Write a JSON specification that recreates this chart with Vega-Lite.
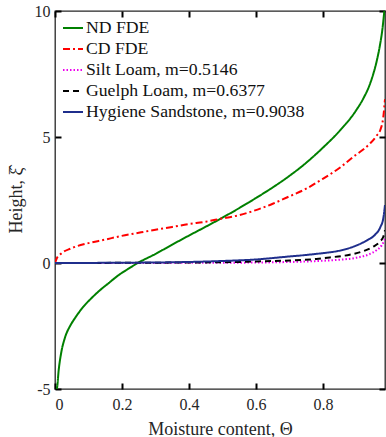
{
  "$schema": "https://vega.github.io/schema/vega-lite/v6.json",
  "width": 330,
  "height": 378,
  "autosize": {"type": "none"},
  "padding": {"left": 55, "top": 11, "right": 1, "bottom": 48},
  "background": "white",
  "config": {
    "view": {"stroke": "#262626", "strokeWidth": 1.3},
    "font": "Liberation Serif",
    "axis": {
      "grid": false,
      "domain": false,
      "ticks": true,
      "zindex": 1,
      "offset": -6,
      "tickColor": "#000000",
      "tickOpacity": 1,
      "tickWidth": 2,
      "tickSize": 6,
      "labelFont": "Liberation Serif",
      "labelFontSize": 16,
      "labelColor": "#262626",
      "titleFont": "Liberation Serif",
      "titleFontSize": 18,
      "titleFontWeight": "normal",
      "titleColor": "#262626"
    },
    "axisX": {"tickSize": 6, "ticks": true, "tickColor": "#000000"},
    "axisY": {"tickSize": 6, "ticks": true, "tickColor": "#000000"},
    "legend": {
      "labelFont": "Liberation Serif"
    }
  },
  "data": {
    "values": [
      {"s": "ND FDE", "t": 0.005, "h": -5.0},
      {"s": "ND FDE", "t": 0.006, "h": -4.96},
      {"s": "ND FDE", "t": 0.011, "h": -4.25},
      {"s": "ND FDE", "t": 0.018, "h": -3.6},
      {"s": "ND FDE", "t": 0.03, "h": -2.95},
      {"s": "ND FDE", "t": 0.045, "h": -2.5},
      {"s": "ND FDE", "t": 0.06, "h": -2.18},
      {"s": "ND FDE", "t": 0.085, "h": -1.73},
      {"s": "ND FDE", "t": 0.11, "h": -1.38},
      {"s": "ND FDE", "t": 0.135, "h": -1.07},
      {"s": "ND FDE", "t": 0.16, "h": -0.8},
      {"s": "ND FDE", "t": 0.19, "h": -0.48},
      {"s": "ND FDE", "t": 0.22, "h": -0.22},
      {"s": "ND FDE", "t": 0.247, "h": 0.0},
      {"s": "ND FDE", "t": 0.3, "h": 0.36},
      {"s": "ND FDE", "t": 0.35, "h": 0.73},
      {"s": "ND FDE", "t": 0.4, "h": 1.09},
      {"s": "ND FDE", "t": 0.45, "h": 1.44},
      {"s": "ND FDE", "t": 0.5, "h": 1.8},
      {"s": "ND FDE", "t": 0.55, "h": 2.18},
      {"s": "ND FDE", "t": 0.6, "h": 2.58},
      {"s": "ND FDE", "t": 0.65, "h": 3.0},
      {"s": "ND FDE", "t": 0.7, "h": 3.46},
      {"s": "ND FDE", "t": 0.75, "h": 3.98},
      {"s": "ND FDE", "t": 0.8, "h": 4.58},
      {"s": "ND FDE", "t": 0.85, "h": 5.25},
      {"s": "ND FDE", "t": 0.9, "h": 6.08},
      {"s": "ND FDE", "t": 0.92, "h": 6.52},
      {"s": "ND FDE", "t": 0.94, "h": 7.1},
      {"s": "ND FDE", "t": 0.95, "h": 7.5},
      {"s": "ND FDE", "t": 0.96, "h": 8.0},
      {"s": "ND FDE", "t": 0.97, "h": 8.65},
      {"s": "ND FDE", "t": 0.977, "h": 9.25},
      {"s": "ND FDE", "t": 0.983, "h": 10.0},
      {"s": "CD FDE", "t": 0.0, "h": 0.0},
      {"s": "CD FDE", "t": 0.005, "h": 0.18},
      {"s": "CD FDE", "t": 0.018, "h": 0.37},
      {"s": "CD FDE", "t": 0.048, "h": 0.58},
      {"s": "CD FDE", "t": 0.097, "h": 0.78},
      {"s": "CD FDE", "t": 0.15, "h": 0.93},
      {"s": "CD FDE", "t": 0.197, "h": 1.07},
      {"s": "CD FDE", "t": 0.25, "h": 1.2},
      {"s": "CD FDE", "t": 0.296, "h": 1.31},
      {"s": "CD FDE", "t": 0.35, "h": 1.43},
      {"s": "CD FDE", "t": 0.396, "h": 1.54},
      {"s": "CD FDE", "t": 0.45, "h": 1.64},
      {"s": "CD FDE", "t": 0.4925, "h": 1.75},
      {"s": "CD FDE", "t": 0.55, "h": 1.9},
      {"s": "CD FDE", "t": 0.593, "h": 2.07},
      {"s": "CD FDE", "t": 0.65, "h": 2.35},
      {"s": "CD FDE", "t": 0.692, "h": 2.6},
      {"s": "CD FDE", "t": 0.75, "h": 2.95},
      {"s": "CD FDE", "t": 0.792, "h": 3.28},
      {"s": "CD FDE", "t": 0.85, "h": 3.78},
      {"s": "CD FDE", "t": 0.891, "h": 4.22},
      {"s": "CD FDE", "t": 0.92, "h": 4.5},
      {"s": "CD FDE", "t": 0.941, "h": 4.75},
      {"s": "CD FDE", "t": 0.96, "h": 5.05},
      {"s": "CD FDE", "t": 0.971, "h": 5.28},
      {"s": "CD FDE", "t": 0.98, "h": 5.8},
      {"s": "CD FDE", "t": 0.985, "h": 6.5},
      {"s": "Silt Loam, m=0.5146", "t": 0.0, "h": 0.0},
      {"s": "Silt Loam, m=0.5146", "t": 0.5, "h": 0.01},
      {"s": "Silt Loam, m=0.5146", "t": 0.7, "h": 0.04},
      {"s": "Silt Loam, m=0.5146", "t": 0.8, "h": 0.09},
      {"s": "Silt Loam, m=0.5146", "t": 0.85, "h": 0.13},
      {"s": "Silt Loam, m=0.5146", "t": 0.9, "h": 0.21},
      {"s": "Silt Loam, m=0.5146", "t": 0.94, "h": 0.36},
      {"s": "Silt Loam, m=0.5146", "t": 0.961, "h": 0.52},
      {"s": "Silt Loam, m=0.5146", "t": 0.975, "h": 0.7},
      {"s": "Silt Loam, m=0.5146", "t": 0.985, "h": 0.95},
      {"s": "Guelph Loam, m=0.6377", "t": 0.0, "h": 0.0},
      {"s": "Guelph Loam, m=0.6377", "t": 0.5, "h": 0.03},
      {"s": "Guelph Loam, m=0.6377", "t": 0.6, "h": 0.06},
      {"s": "Guelph Loam, m=0.6377", "t": 0.7, "h": 0.1},
      {"s": "Guelph Loam, m=0.6377", "t": 0.78, "h": 0.16},
      {"s": "Guelph Loam, m=0.6377", "t": 0.82, "h": 0.22},
      {"s": "Guelph Loam, m=0.6377", "t": 0.88, "h": 0.33},
      {"s": "Guelph Loam, m=0.6377", "t": 0.92, "h": 0.47},
      {"s": "Guelph Loam, m=0.6377", "t": 0.95, "h": 0.65},
      {"s": "Guelph Loam, m=0.6377", "t": 0.97, "h": 0.85},
      {"s": "Guelph Loam, m=0.6377", "t": 0.98, "h": 1.04},
      {"s": "Guelph Loam, m=0.6377", "t": 0.985, "h": 1.3},
      {"s": "Hygiene Sandstone, m=0.9038", "t": 0.0, "h": 0.0},
      {"s": "Hygiene Sandstone, m=0.9038", "t": 0.3, "h": 0.02},
      {"s": "Hygiene Sandstone, m=0.9038", "t": 0.5, "h": 0.08},
      {"s": "Hygiene Sandstone, m=0.9038", "t": 0.6, "h": 0.14},
      {"s": "Hygiene Sandstone, m=0.9038", "t": 0.692, "h": 0.25},
      {"s": "Hygiene Sandstone, m=0.9038", "t": 0.75, "h": 0.32},
      {"s": "Hygiene Sandstone, m=0.9038", "t": 0.792, "h": 0.38},
      {"s": "Hygiene Sandstone, m=0.9038", "t": 0.842, "h": 0.47},
      {"s": "Hygiene Sandstone, m=0.9038", "t": 0.891, "h": 0.65},
      {"s": "Hygiene Sandstone, m=0.9038", "t": 0.931, "h": 0.9},
      {"s": "Hygiene Sandstone, m=0.9038", "t": 0.955, "h": 1.12},
      {"s": "Hygiene Sandstone, m=0.9038", "t": 0.971, "h": 1.42},
      {"s": "Hygiene Sandstone, m=0.9038", "t": 0.98, "h": 1.78},
      {"s": "Hygiene Sandstone, m=0.9038", "t": 0.985, "h": 2.3}
    ]
  },
  "layer": [
    {
      "mark": {"type": "line", "strokeWidth": 2, "clip": true, "interpolate": "monotone"},
      "encoding": {
        "x": {
          "field": "t", "type": "quantitative",
          "scale": {"domain": [0, 0.985], "nice": false, "zero": false},
          "axis": {"values": [0, 0.2, 0.4, 0.6, 0.8], "format": "~g", "ticks": true, "tickSize": 6, "labelPadding": 7, "title": "Moisture content, Θ", "titlePadding": 8}
        },
        "y": {
          "field": "h", "type": "quantitative",
          "scale": {"domain": [-5, 10], "nice": false, "zero": false},
          "axis": {"values": [-5, 0, 5, 10], "ticks": true, "tickSize": 6, "labelPadding": 5, "title": "Height, ξ̂", "titlePadding": 9, "labelExpr": "datum.value < 0 ? '-' + abs(datum.value) : datum.label"}
        },
        "color": {
          "field": "s", "type": "nominal",
          "scale": {
            "domain": ["ND FDE", "CD FDE", "Silt Loam, m=0.5146", "Guelph Loam, m=0.6377", "Hygiene Sandstone, m=0.9038"],
            "range": ["#008000", "#ff0000", "#ee00ee", "#000000", "#1f2e8c"]
          },
          "legend": {
            "orient": "none", "legendX": 7, "legendY": 6, "title": null,
            "symbolType": "stroke", "symbolSize": 400, "symbolStrokeWidth": 2,
            "labelFont": "Liberation Serif", "labelFontSize": 17.7, "labelColor": "#111111",
            "labelOffset": 2, "rowPadding": 1, "labelLimit": 400
          }
        },
        "strokeDash": {
          "field": "s", "type": "nominal",
          "scale": {
            "domain": ["ND FDE", "CD FDE", "Silt Loam, m=0.5146", "Guelph Loam, m=0.6377", "Hygiene Sandstone, m=0.9038"],
            "range": [[1, 0], [7, 3, 2, 3], [1.5, 2], [6, 4], [1, 0]]
          },
          "legend": null
        }
      }
    },
    {
      "mark": {"type": "point", "opacity": 0},
      "encoding": {
        "x": {
          "field": "t", "type": "quantitative",
          "axis": {"values": [0, 0.2, 0.4, 0.6, 0.8], "ticks": true, "tickSize": 6, "labels": false, "title": null, "orient": "top"}
        },
        "y": {
          "field": "h", "type": "quantitative",
          "axis": {"values": [-5, 0, 5, 10], "ticks": true, "tickSize": 6, "labels": false, "title": null, "orient": "right"}
        }
      }
    }
  ],
  "resolve": {"axis": {"x": "independent", "y": "independent"}}
}
